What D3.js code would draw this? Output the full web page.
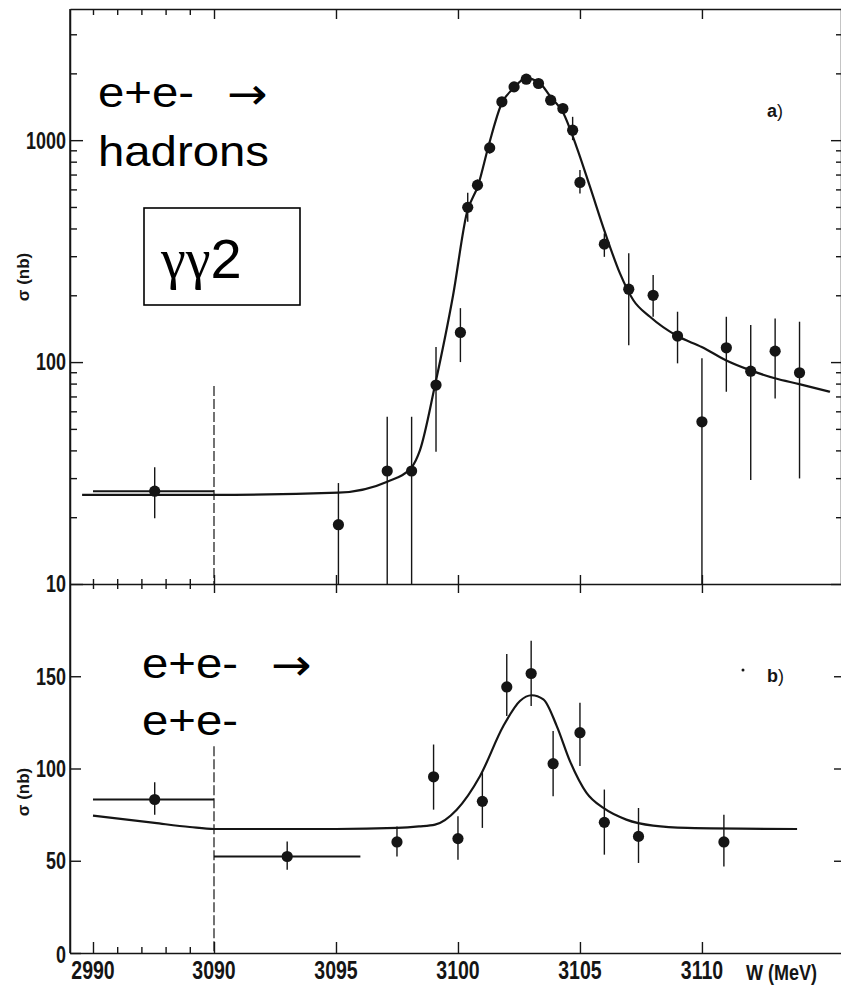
<!DOCTYPE html>
<html>
<head>
<meta charset="utf-8">
<script src="https://cdn.jsdelivr.net/npm/d3@7"></script>
<style>
  html, body { margin: 0; padding: 0; background: #fff; }
  svg { display: block; }
</style>
</head>
<body>
<svg id="chart" width="841" height="989"></svg>
<script>
// ---------------- DATA ----------------
// x-axis tick values (axis broken: 2990..3090 compressed)
const xSmallTicks = [2990, 3010, 3030, 3050, 3070];
const xMajorTicks = [3090, 3095, 3100, 3105, 3110];
const xTickLabels = ["2990", "3090", "3095", "3100", "3105", "3110"];
const xLabelValues = [2990, 3090, 3095, 3100, 3105, 3110];

// panel a) e+e- -> hadrons (log scale)
const hadW     = [3041, 3095.1, 3097.1, 3098.1, 3099.1, 3100.1, 3100.4, 3100.8, 3101.3, 3101.8, 3102.3, 3102.8, 3103.3, 3103.8, 3104.3, 3104.7, 3105.0, 3106.0, 3107.0, 3108.0, 3109.0, 3110.0, 3111.0, 3112.0, 3113.0, 3114.0];
const hadSigma = [26.2, 18.5, 32.3, 32.3, 78.8, 136, 498, 627, 923, 1489, 1738, 1883, 1800, 1514, 1389, 1109, 645, 340, 213, 200, 131, 53.8, 116, 91, 112, 89.5];
const hadLo    = [19.8, 5, 5, 5, 39.4, 100, 429, 590, 870, 1420, 1660, 1800, 1720, 1450, 1320, 1000, 575, 298, 119, 160, 98.7, 5, 73.5, 29.4, 68.6, 29.9];
const hadHi    = [33.6, 28.5, 56.7, 56.7, 117, 175, 579, 665, 980, 1560, 1820, 1970, 1880, 1580, 1460, 1274, 733, 380, 309, 247, 168.6, 104, 160, 147, 157, 152];
const hadWlo   = [2990];   // horizontal bar of first point
const hadWhi   = [3090];

const hadFitW     = [2981, 3090, 3095.1, 3097.1, 3098.1, 3098.44, 3099.06, 3099.8, 3100.36, 3100.83, 3101.28, 3101.79, 3102.27, 3102.79, 3103.29, 3103.8, 3104.29, 3104.86, 3105.41, 3106.04, 3106.64, 3107.19, 3107.87, 3108.99, 3109.99, 3110.98, 3111.97, 3112.99, 3113.99, 3115.25];
const hadFitSigma = [25.2, 25.2, 25.8, 28.9, 33.6, 40, 78.8, 200, 468, 627, 966, 1462, 1710, 1897, 1833, 1567, 1342, 933, 617, 380, 251, 190, 160, 131, 117, 102, 92, 84.5, 79.6, 73.5];

const topMajorTicks = [10, 100, 1000];
const topMinorTicks = [20, 30, 40, 50, 60, 70, 80, 90, 200, 300, 400, 500, 600, 700, 800, 900, 2000, 3000];
const topTickLabels = ["10", "100", "1000"];

// panel b) e+e- -> e+e- (linear scale)
const eeW     = [3041, 3093.0, 3097.5, 3099.0, 3100.0, 3101.0, 3102.0, 3103.0, 3103.9, 3105.0, 3106.0, 3107.4, 3110.9];
const eeSigma = [83.2, 52.3, 60.2, 95.5, 62.0, 82.2, 144.2, 151.5, 102.6, 119.4, 70.8, 63.2, 60.2];
const eeLo    = [75.0, 45.1, 52.3, 77.7, 50.5, 67.8, 128.4, 133.9, 85.0, 101.3, 53.3, 48.8, 46.9];
const eeHi    = [92.6, 60.5, 68.6, 113, 74.1, 97.7, 162, 169.2, 120.3, 135.7, 88.6, 78.6, 75.0];
const eeWlo   = [2990, 3090];
const eeWhi   = [3090, 3096.0];

const eeFitW     = [2990, 3041, 3070, 3090, 3095, 3097.5, 3098.4, 3099.06, 3099.95, 3100.9, 3101.86, 3102.54, 3103.02, 3103.5, 3104.05, 3104.59, 3105.27, 3105.96, 3106.9, 3108.0, 3109.4, 3113.9];
const eeFitSigma = [74.5, 70.5, 68.3, 67.2, 67.2, 67.8, 68.6, 69.6, 77.7, 95.8, 123, 136.6, 139.7, 137.5, 123, 104, 86.8, 78.6, 72.3, 69, 67.8, 67.2];

const botTicks = [0, 50, 100, 150];
const botTickLabels = ["0", "50", "100", "150"];

// ---------------- LAYOUT ----------------
const L = 70, R = 841, T = 9, MID = 584, B = 953;
const ink = "#151515";
const numFont = "'Liberation Sans', Arial, sans-serif";

const svg = d3.select("#chart");

const x = d3.scaleLinear().domain([2971, 3090, 3115.7]).range([L, 214, R]);
const yTop = d3.scaleLog().domain([10, 3900]).range([MID, T]);
const yBot = d3.scaleLinear().domain([0, 200]).range([B, MID]);

// clip paths
const defs = svg.append("defs");
defs.append("clipPath").attr("id", "clipTop").append("rect")
  .attr("x", L).attr("y", T).attr("width", R - L).attr("height", MID - T);
defs.append("clipPath").attr("id", "clipBot").append("rect")
  .attr("x", L).attr("y", MID).attr("width", R - L).attr("height", B - MID);

function styleAxis(g) {
  g.selectAll("path.domain").attr("stroke", ink).attr("stroke-width", 1.5);
  g.selectAll(".tick line").attr("stroke", ink).attr("stroke-width", 1.4);
  g.selectAll(".tick text").remove();
}

// ---------- top panel y axes ----------
const allTop = topMajorTicks.concat(topMinorTicks);
svg.append("g").attr("transform", `translate(${L},0)`)
  .call(d3.axisLeft(yTop).tickValues(allTop).tickSizeInner(-7).tickSizeOuter(0).tickFormat(""))
  .call(styleAxis)
  .call(g => g.selectAll(".tick line").filter(d => topMajorTicks.includes(d)).attr("x2", 13));
svg.append("g").attr("transform", `translate(${R},0)`)
  .call(d3.axisRight(yTop).tickValues(allTop).tickSizeInner(-5).tickSizeOuter(0).tickFormat(""))
  .call(styleAxis)
  .call(g => g.selectAll(".tick line").filter(d => topMajorTicks.includes(d)).attr("x2", -10));

// ---------- bottom panel y axes ----------
svg.append("g").attr("transform", `translate(${L},0)`)
  .call(d3.axisLeft(yBot).tickValues(botTicks).tickSizeInner(-11).tickSizeOuter(0).tickFormat(""))
  .call(styleAxis);
svg.append("g").attr("transform", `translate(${R},0)`)
  .call(d3.axisRight(yBot).tickValues(botTicks.slice(1)).tickSizeInner(-7).tickSizeOuter(0).tickFormat(""))
  .call(styleAxis)
  .call(g => g.select("path.domain").remove());
// left frame line spanning both panels
svg.append("line").attr("x1", L).attr("x2", L).attr("y1", T).attr("y2", B)
  .attr("stroke", ink).attr("stroke-width", 1.5);

// ---------- x axes ----------
const allX = xSmallTicks.concat(xMajorTicks);
const isMajX = d => xMajorTicks.includes(d);
// top edge
svg.append("g").attr("transform", `translate(0,${T})`)
  .call(d3.axisTop(x).tickValues(allX).tickSizeInner(-6).tickSizeOuter(0).tickFormat(""))
  .call(styleAxis)
  .call(g => g.selectAll(".tick line").filter(isMajX).attr("y2", 10));
// middle shared line: ticks up and down
svg.append("g").attr("transform", `translate(0,${MID})`)
  .call(d3.axisBottom(x).tickValues(allX).tickSizeInner(5).tickSizeOuter(0).tickFormat(""))
  .call(styleAxis)
  .call(g => g.selectAll(".tick line").filter(isMajX).attr("y2", 9));
svg.append("g").attr("transform", `translate(0,${MID})`)
  .call(d3.axisTop(x).tickValues(allX).tickSizeInner(5).tickSizeOuter(0).tickFormat(""))
  .call(styleAxis)
  .call(g => g.select("path.domain").remove())
  .call(g => g.selectAll(".tick line").filter(isMajX).attr("y2", -9));
// bottom edge
svg.append("g").attr("transform", `translate(0,${B})`)
  .call(d3.axisBottom(x).tickValues(allX).tickSizeInner(-6).tickSizeOuter(0).tickFormat(""))
  .call(styleAxis)
  .call(g => g.selectAll(".tick line").filter(d => isMajX(d) || d === 2990).attr("y2", -11));

// ---------- tick labels (bold, condensed) ----------
function condText(px, py, str, anchor, size) {
  svg.append("text")
    .attr("transform", `translate(${px},${py}) scale(0.78,1)`)
    .attr("text-anchor", anchor)
    .attr("dominant-baseline", "central")
    .attr("font-family", numFont)
    .attr("font-weight", "bold")
    .attr("font-size", size)
    .attr("fill", ink)
    .text(str);
}
topMajorTicks.forEach((v, i) => condText(L - 4, yTop(v), topTickLabels[i], "end", 23));
botTicks.forEach((v, i) => condText(L - 4, yBot(v) + (v === 0 ? 2 : 0), botTickLabels[i], "end", 23));
xLabelValues.forEach((v, i) => condText(x(v), 971, xTickLabels[i], "middle", 25));
svg.append("text")
  .attr("transform", `translate(746,972) scale(0.82,1)`)
  .attr("dominant-baseline", "central")
  .attr("font-family", numFont).attr("font-weight", "bold").attr("font-size", 22)
  .attr("fill", ink).text("W (MeV)");

// y titles
function yTitle(cy) {
  svg.append("text")
    .attr("transform", `translate(29,${cy}) rotate(-90)`)
    .attr("text-anchor", "middle")
    .attr("font-family", numFont).attr("font-weight", "bold").attr("font-size", 17)
    .attr("fill", ink).text("σ (nb)");
}
yTitle(277);
yTitle(792);

// ---------- dashed break lines at 3090 ----------
svg.append("line")
  .attr("x1", x(3090)).attr("x2", x(3090)).attr("y1", yTop(78)).attr("y2", yTop(10))
  .attr("stroke", ink).attr("stroke-width", 1.2).attr("stroke-dasharray", "10,3");
svg.append("line")
  .attr("x1", x(3090)).attr("x2", x(3090)).attr("y1", yBot(112)).attr("y2", yBot(0))
  .attr("stroke", ink).attr("stroke-width", 1.2).attr("stroke-dasharray", "10,3");

// ---------- fit curves ----------
const gTop = svg.append("g").attr("clip-path", "url(#clipTop)");
const gBot = svg.append("g").attr("clip-path", "url(#clipBot)");

gTop.append("path")
  .datum(hadFitW.map((w, i) => [w, hadFitSigma[i]]))
  .attr("fill", "none").attr("stroke", ink).attr("stroke-width", 2.2)
  .attr("d", d3.line().x(d => x(d[0])).y(d => yTop(d[1])).curve(d3.curveMonotoneX));
gBot.append("path")
  .datum(eeFitW.map((w, i) => [w, eeFitSigma[i]]))
  .attr("fill", "none").attr("stroke", ink).attr("stroke-width", 2.2)
  .attr("d", d3.line().x(d => x(d[0])).y(d => yBot(d[1])).curve(d3.curveMonotoneX));

// ---------- data points ----------
function drawPoints(g, W, S, Lo, Hi, Wlo, Whi, y) {
  const pts = W.map((w, i) => ({ w, s: S[i], lo: Lo[i], hi: Hi[i], wlo: Wlo[i], whi: Whi[i] }));
  g.selectAll(null).data(pts).enter().append("line")
    .attr("x1", d => x(d.w)).attr("x2", d => x(d.w))
    .attr("y1", d => y(d.hi)).attr("y2", d => y(d.lo))
    .attr("stroke", ink).attr("stroke-width", 1.4);
  g.selectAll(null).data(pts.filter(d => d.wlo !== undefined)).enter().append("line")
    .attr("x1", d => x(d.wlo)).attr("x2", d => x(d.whi))
    .attr("y1", d => y(d.s)).attr("y2", d => y(d.s))
    .attr("stroke", ink).attr("stroke-width", 2);
  g.selectAll(null).data(pts).enter().append("circle")
    .attr("cx", d => x(d.w)).attr("cy", d => y(d.s)).attr("r", 5.6)
    .attr("fill", ink);
}
drawPoints(gTop, hadW, hadSigma, hadLo, hadHi, hadWlo, hadWhi, yTop);
drawPoints(gBot, eeW, eeSigma, eeLo, eeHi, eeWlo, eeWhi, yBot);

// ---------- panel labels ----------
function panelLabel(px, py, letter) {
  svg.append("text").attr("x", px).attr("y", py)
    .attr("font-family", numFont).attr("font-size", 18).attr("fill", ink)
    .call(t => t.append("tspan").attr("font-weight", "bold").text(letter))
    .call(t => t.append("tspan").attr("font-weight", "normal").text(")"));
}
panelLabel(767, 117, "a");
panelLabel(767, 682, "b");
svg.append("circle").attr("cx", 743).attr("cy", 670).attr("r", 1.5).attr("fill", ink);

// ---------- annotations ----------
const annFont = "'Liberation Sans', Arial, Helvetica, sans-serif";
function ann(px, py, str, arrow) {
  const t = svg.append("text")
    .attr("transform", `translate(${px},${py}) scale(1.1,1)`)
    .attr("font-family", annFont).attr("font-size", 43).attr("fill", "#000");
  t.append("tspan").text(str);
  if (arrow) {
    t.append("tspan").attr("x", 117).attr("dy", 2)
      .attr("font-family", "'DejaVu Sans', sans-serif").attr("font-weight", "normal")
      .attr("font-size", 44).text("\u2192");
  }
}
ann(98, 107, "e+e-", true);
ann(98, 166, "hadrons", false);
ann(142, 678, "e+e-", true);
ann(142, 735, "e+e-", false);

// γγ2 box
svg.append("rect").attr("x", 144).attr("y", 208).attr("width", 156).attr("height", 97)
  .attr("fill", "none").attr("stroke", "#000").attr("stroke-width", 1.6);
svg.append("text").attr("x", 161).attr("y", 278)
  .attr("font-size", 56).attr("fill", "#000")
  .call(t => t.append("tspan").attr("font-family", "'Liberation Serif', 'Times New Roman', serif").text("γγ"))
  .call(t => t.append("tspan").attr("font-family", annFont).text("2"));
</script>
</body>
</html>
